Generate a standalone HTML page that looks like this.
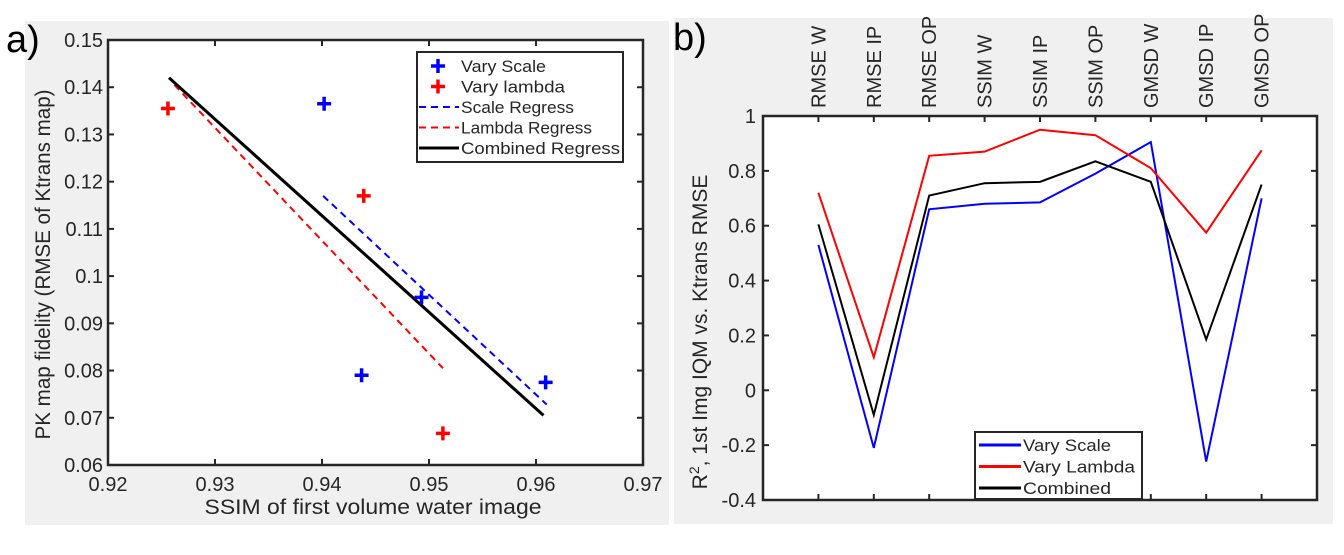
<!DOCTYPE html>
<html><head><meta charset="utf-8"><style>
body{margin:0;background:#fff;}
svg text{font-family:"Liberation Sans",sans-serif;fill:#262626;}
</style></head><body>
<svg id="s" width="1344" height="550" xmlns="http://www.w3.org/2000/svg">
<rect x="25" y="21" width="644" height="504" fill="#f0f0f0"/>
<rect x="674" y="18" width="659" height="506" fill="#f0f0f0"/>
<text x="6" y="52" font-size="38" style="fill:#000">a)</text>
<text x="673" y="50" font-size="38" style="fill:#000">b)</text>
<g id="A"></g>
<g id="B"></g>
</svg>
<script>
// Panel a data
const blueX=[0.9402,0.9437,0.9493,0.9609];
const blueY=[0.1365,0.079,0.0955,0.0775];
const redX=[0.9256,0.9439,0.9513];
const redY=[0.1355,0.117,0.0667];
const scaleRegX=[0.9401,0.9610], scaleRegY=[0.117,0.0728];
const lambdaRegX=[0.9262,0.9513], lambdaRegY=[0.1405,0.0805];
const combRegX=[0.9257,0.9607], combRegY=[0.142,0.0705];
const xTicksA=[0.92,0.93,0.94,0.95,0.96,0.97];
const yTicksA=[0.06,0.07,0.08,0.09,0.1,0.11,0.12,0.13,0.14,0.15];
// Panel b data
const cats=["RMSE W","RMSE IP","RMSE OP","SSIM W","SSIM IP","SSIM OP","GMSD W","GMSD IP","GMSD OP"];
const vScale=[0.53,-0.21,0.66,0.68,0.685,0.79,0.905,-0.26,0.70];
const vLambda=[0.72,0.12,0.855,0.87,0.95,0.93,0.81,0.575,0.875];
const vComb=[0.605,-0.09,0.71,0.755,0.76,0.835,0.76,0.185,0.75];
const yTicksB=[-0.4,-0.2,0,0.2,0.4,0.6,0.8,1];
const yLabB=["-0.4","-0.2","0","0.2","0.4","0.6","0.8","1"];

const NS="http://www.w3.org/2000/svg";
function mk(p,t,a,txt){const e=document.createElementNS(NS,t);for(const k in a)e.setAttribute(k,a[k]);if(txt!=null)e.textContent=txt;p.appendChild(e);return e;}

// Panel A
const A=document.getElementById('A');
const aL=108,aR=643,aT=40,aB=465;
const ax=v=>aL+(v-0.92)/0.05*(aR-aL);
const ay=v=>aB-(v-0.06)/0.09*(aB-aT);
mk(A,'rect',{x:aL,y:aT,width:aR-aL,height:aB-aT,fill:'#fff'});
xTicksA.forEach(t=>{const x=ax(t);
 mk(A,'line',{x1:x,x2:x,y1:aB,y2:aB-6,stroke:'#262626','stroke-width':2});
 mk(A,'line',{x1:x,x2:x,y1:aT,y2:aT+6,stroke:'#262626','stroke-width':2});
 const e=mk(A,'text',{x:x,y:aB+26,'font-size':20,'text-anchor':'middle'},t.toFixed(2));
 });
yTicksA.forEach(t=>{const y=ay(t);
 mk(A,'line',{x1:aL,x2:aL+6,y1:y,y2:y,stroke:'#262626','stroke-width':2});
 mk(A,'line',{x1:aR,x2:aR-6,y1:y,y2:y,stroke:'#262626','stroke-width':2});
 const e=mk(A,'text',{x:aL-5,y:y+7,'font-size':20,'text-anchor':'end'},String(Math.round(t*100)/100));
 });
function seg(g,X,Y,col,w,dash,f){const e=mk(g,'line',{x1:f.x(X[0]),y1:f.y(Y[0]),x2:f.x(X[1]),y2:f.y(Y[1]),stroke:col,'stroke-width':w});if(dash)e.setAttribute('stroke-dasharray',dash);return e;}
const fa={x:ax,y:ay};
let l=seg(A,lambdaRegX,lambdaRegY,'#f00',2,'7,5',fa);
l=seg(A,scaleRegX,scaleRegY,'#00f',2,'7,5',fa);
l=seg(A,combRegX,combRegY,'#000',3,null,fa);
function plus(g,x,y,col){const p=mk(g,'path',{d:`M${x-7},${y}H${x+7}M${x},${y-7}V${y+7}`,stroke:col,'stroke-width':3.5,fill:'none'});return p;}
blueX.forEach((v,i)=>{const p=plus(A,ax(v),ay(blueY[i]),'#00f');});
redX.forEach((v,i)=>{const p=plus(A,ax(v),ay(redY[i]),'#f00');});
mk(A,'rect',{x:aL,y:aT,width:aR-aL,height:aB-aT,fill:'none',stroke:'#262626','stroke-width':2.5});
let t=mk(A,'text',{x:373,y:514,'font-size':21,'text-anchor':'middle',textLength:337,lengthAdjust:'spacingAndGlyphs'},'SSIM of first volume water image');

t=mk(A,'text',{x:0,y:0,'font-size':21,'text-anchor':'middle',textLength:350,lengthAdjust:'spacingAndGlyphs',transform:`translate(50,${(aT+aB)/2+12}) rotate(-90)`},'PK map fidelity (RMSE of Ktrans map)');

// legend A
const lg=mk(A,'g',{});
mk(lg,'rect',{x:417,y:52,width:206,height:110,fill:'#fff',stroke:'#262626','stroke-width':2});
const ent=[['Vary Scale','#00f','p',85],['Vary lambda','#f00','p',104],['Scale Regress','#00f','d',113],['Lambda Regress','#f00','d',131],['Combined Regress','#000','s',159]];
ent.forEach((e,i)=>{const y=66+i*20.5;
 if(e[2]==='p')plus(lg,438,y,e[1]);
 else {const q=mk(lg,'line',{x1:419,x2:459,y1:y,y2:y,stroke:e[1],'stroke-width':e[2]==='s'?3:2});if(e[2]==='d')q.setAttribute('stroke-dasharray','7,5');}
 const tt=mk(lg,'text',{x:461,y:y+6,'font-size':17,textLength:e[3],lengthAdjust:'spacingAndGlyphs'},e[0]);});

// Panel B
const B=document.getElementById('B');
const bL=763,bR=1317,bT=116,bB=500;
const bx=i=>bL+(i+1)/10*(bR-bL);
const by=v=>bB-(v+0.4)/1.4*(bB-bT);
mk(B,'rect',{x:bL,y:bT,width:bR-bL,height:bB-bT,fill:'#fff'});
cats.forEach((c,i)=>{const x=bx(i);
 mk(B,'line',{x1:x,x2:x,y1:bT,y2:bT+6,stroke:'#262626','stroke-width':2});
 mk(B,'line',{x1:x,x2:x,y1:bB,y2:bB-6,stroke:'#262626','stroke-width':2});
 const e=mk(B,'text',{x:0,y:0,'font-size':20,transform:`translate(${x+7},108) rotate(-90)`},c);
 });
yTicksB.forEach((v,i)=>{const y=by(v);
 mk(B,'line',{x1:bL,x2:bL+6,y1:y,y2:y,stroke:'#262626','stroke-width':2});
 mk(B,'line',{x1:bR,x2:bR-6,y1:y,y2:y,stroke:'#262626','stroke-width':2});
 const e=mk(B,'text',{x:bL-7,y:y+7,'font-size':20,'text-anchor':'end'},yLabB[i]);
 });
function poly(vals,col,name){const p=mk(B,'polyline',{points:vals.map((v,i)=>bx(i)+','+by(v)).join(' '),fill:'none',stroke:col,'stroke-width':2});}
poly(vScale,'#00f','vary-scale-line');
poly(vLambda,'#f00','vary-lambda-line');
poly(vComb,'#000','combined-line');
mk(B,'rect',{x:bL,y:bT,width:bR-bL,height:bB-bT,fill:'none',stroke:'#262626','stroke-width':2.5});
t=mk(B,'text',{x:0,y:0,'font-size':21,'text-anchor':'middle',transform:`translate(707,${(bT+bB)/2+24}) rotate(-90)`});

t.innerHTML='R<tspan dy="-8" font-size="14">2</tspan><tspan dy="8">, 1st Img IQM vs. Ktrans RMSE</tspan>';
const lb=mk(B,'g',{});
mk(lb,'rect',{x:975,y:432,width:167,height:67,fill:'#fff',stroke:'#262626','stroke-width':2});
[['Vary Scale','#00f',88],['Vary Lambda','#f00',112],['Combined','#000',88]].forEach((e,i)=>{const y=445+i*21.5;
 mk(lb,'line',{x1:979,x2:1021,y1:y,y2:y,stroke:e[1],'stroke-width':3});
 const tt=mk(lb,'text',{x:1023,y:y+6,'font-size':17,textLength:e[2],lengthAdjust:'spacingAndGlyphs'},e[0]);});
</script>
</body></html>
